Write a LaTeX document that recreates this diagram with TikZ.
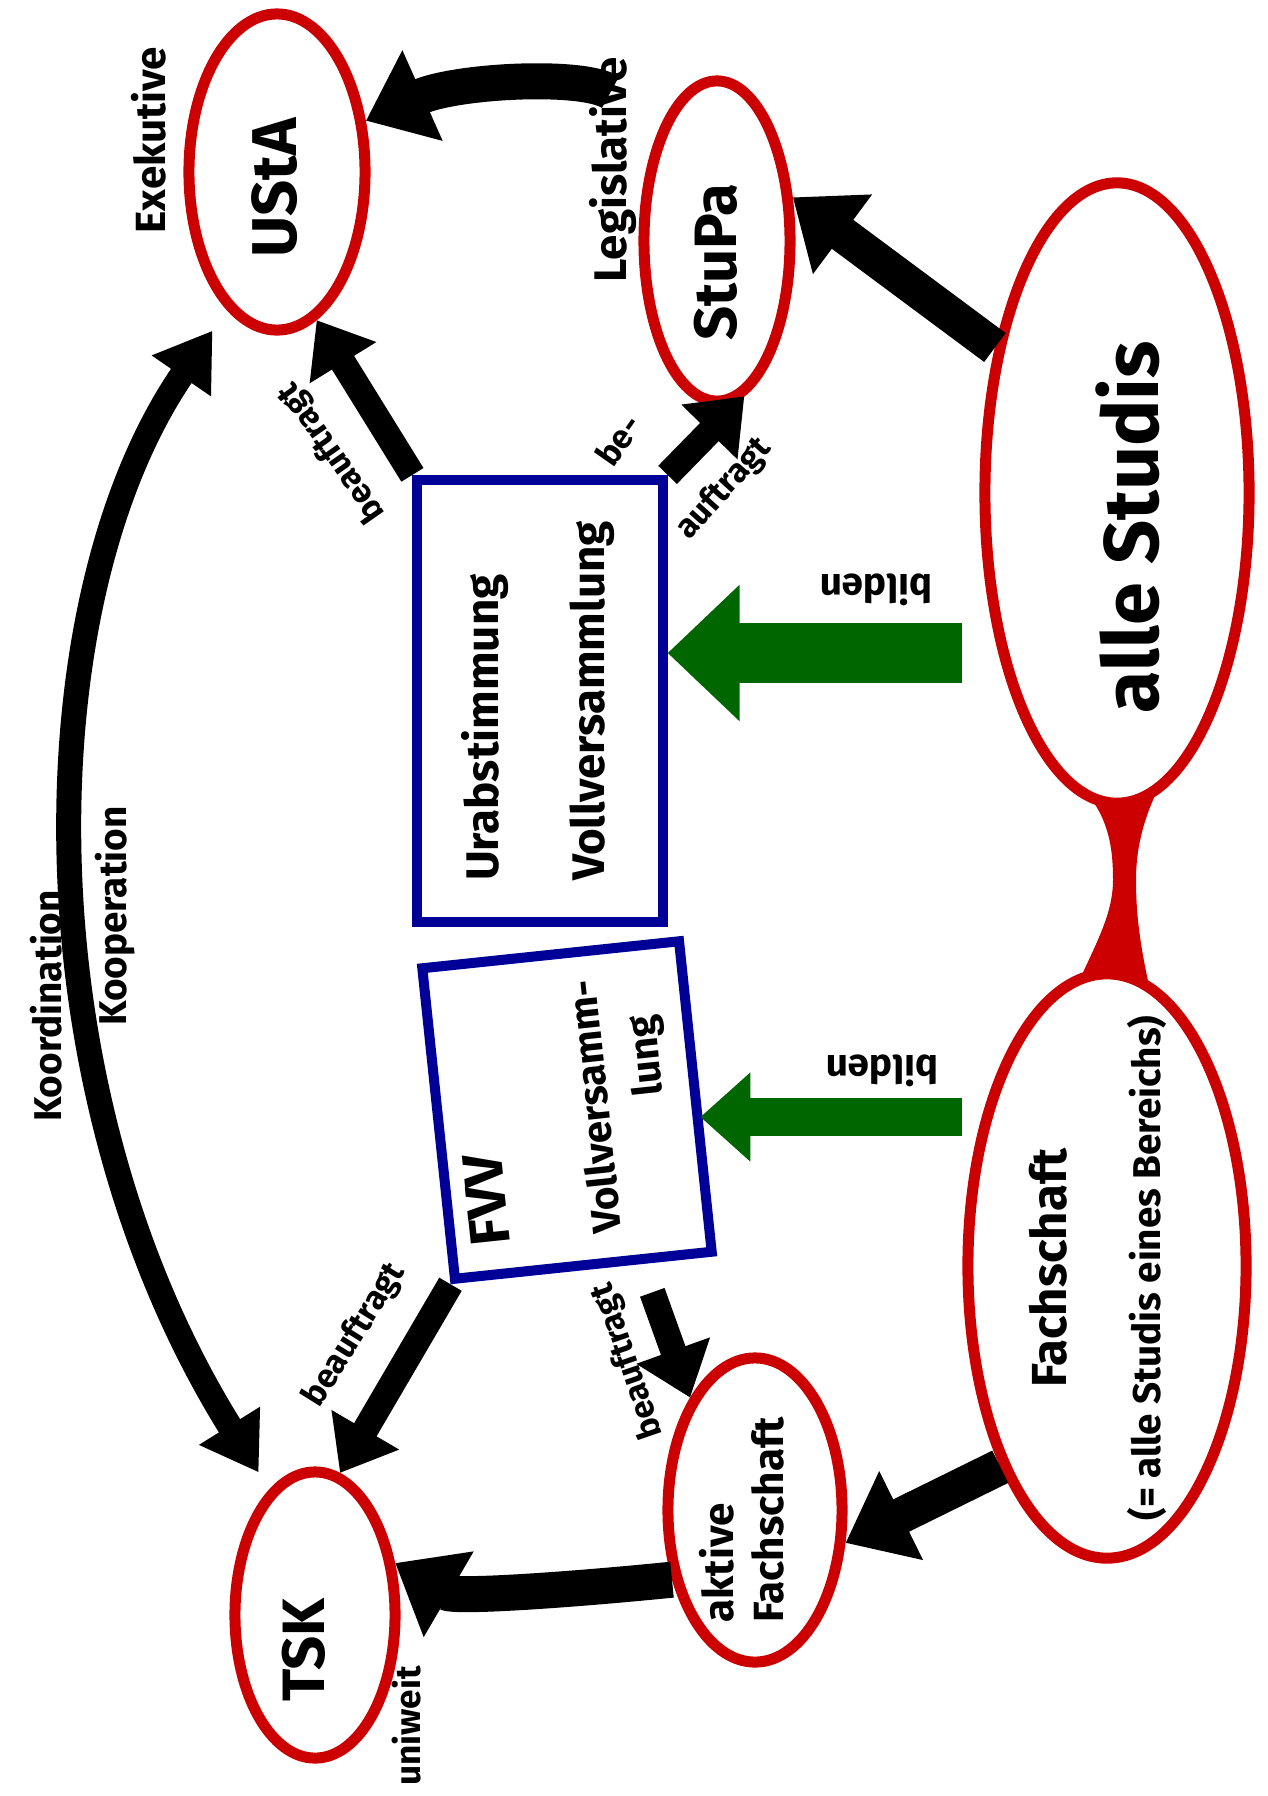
\documentclass[tikz,border=0pt]{standalone}
\usepackage{fontspec}
\setmainfont{Fira Sans}
\usepackage{tikz}
\usetikzlibrary{shapes.geometric,arrows.meta,calc}
\definecolor{rot}{HTML}{CC0000}
\definecolor{blau}{HTML}{000099}
\definecolor{gruen}{HTML}{006600}
\newcommand{\hand}[1]{\fontsize{#1}{#1}\selectfont\bfseries}

\begin{document}
\begin{tikzpicture}[x=0.01cm, y=-0.01cm,
    blase/.style={ellipse, draw=rot, line width=0.11cm, fill=white, inner sep=0pt},
    kasten/.style={rectangle, draw=blau, line width=0.1cm, fill=white, inner sep=0pt},
    pfeil/.style={line width=0.26cm, -{Triangle[length=0.5cm, width=0.75cm]}},
    dick/.style={line width=0.36cm, -{Triangle[length=0.62cm, width=0.95cm]}},
    bildbreit/.style={draw=gruen, line width=0.6cm, -{Triangle[length=0.72cm, width=1.32cm]}},
    bildschmal/.style={draw=gruen, line width=0.38cm, -{Triangle[length=0.5cm, width=0.86cm]}}]
  \useasboundingbox (0,0) rectangle (1268,1796);

  \fill[rot] (1080,785) .. controls (1108,815) and (1113,845) .. (1113,880)
             .. controls (1113,915) and (1095,945) .. (1075,990) -- (1150,990)
             .. controls (1140,945) and (1136,915) .. (1136,880)
             .. controls (1136,845) and (1145,815) .. (1160,785) -- cycle;

  \node[blase, minimum width=1.76cm, minimum height=3.16cm] (usta) at (277,172) {};
  \node[blase, minimum width=1.46cm, minimum height=3.2cm] (stupa) at (717,241) {};
  \node[blase, minimum width=2.64cm, minimum height=6.2cm] (alle) at (1117,493) {};
  \node[blase, minimum width=2.78cm, minimum height=5.84cm] (fach) at (1107,1266) {};
  \node[blase, minimum width=1.6cm, minimum height=2.86cm] (tsk) at (315,1615) {};
  \node[blase, minimum width=1.74cm, minimum height=3.04cm] (aktiv) at (755,1510) {};

  \node[rotate=90] (ustat) at (275,188) {\hand{18pt}UStA};
  \node[rotate=90] (stupat) at (716,262) {\hand{17pt}StuPa};
  \node[rotate=90] (allet) at (1128,527) {\hand{22pt}alle Studis};
  \node[rotate=90, align=center, font={\hand{11pt}}] (facht) at (1098,1268)
    {{\hand{14pt}Fachschaft}\\[0.55cm](= alle Studis eines Bereichs)};
  \node[rotate=90] (tskt) at (304,1650) {\hand{17pt}TSK};
  \node[rotate=90, align=left, font={\hand{12pt}}] (aktivt) at (742,1520) {aktive\\[0.08cm]Fachschaft};

  \node[kasten, minimum width=2.45cm, minimum height=4.42cm] (uv) at (540,701)
    {\rotatebox{90}{\hand{13pt}\begin{tabular}{@{}l@{}}Urabstimmung\\[0.57cm]Vollversammlung\end{tabular}}};
  \node[kasten, rotate=6, minimum width=2.58cm, minimum height=3.12cm] (fvv) at (567,1110)
    {\rotatebox{90}{\hand{11.5pt}\begin{tabular}{@{}l@{}}{\hand{16pt}FVV}\\[0.69cm]Vollversamm-\\[0.12cm]
      \hspace*{1.32cm}lung\end{tabular}}};

  \coordinate (g1) at (962,653);
  \coordinate (g2) at (962,1117);
  \draw[bildbreit] (g1) -- (g1 -| uv.east);
  \draw[bildschmal] (g2) -- (g2 -| fvv.east);

  \draw[dick, shorten <=0.6cm] (stupa.north west) .. controls +(-80,-50) and +(90,-40) .. (usta.30);
  \draw[dick] (alle.130) -- (stupa.30);
  \draw[pfeil] (uv.north west) -- (usta.-75);
  \draw[pfeil] (uv.north east) -- (stupa.-80);
  \draw[pfeil] (fvv.south west) -- (tsk.80);
  \draw[pfeil, shorten <=0.3cm] (fvv.-70) -- (aktiv.120);
  \draw[dick] (aktiv.220) .. controls +(-100,10) and +(60,35) .. (tsk.33);
  \draw[dick] (fach.242) -- (aktiv.-20);
  \draw[line width=0.25cm, {Triangle[length=0.55cm, width=0.68cm]}-{Triangle[length=0.55cm, width=0.68cm]},
        shorten <=0.25cm, shorten >=0.2cm]
    (usta.-110) .. controls +(-200,290) and +(-250,-400) .. (tsk.110);

  \node[rotate=90] (exek) at (149,140) {\hand{12pt}Exekutive};
  \node[rotate=90] (legi) at (613,170) {\hand{13pt}Legislative};
  \node[rotate=90] (koord) at (46,1006) {\hand{11pt}Koordination};
  \node[rotate=90] (koop) at (115,916) {\hand{11pt}Kooperation};
  \node[rotate=125] (bu1) at (332,452) {\hand{9.5pt}beauftragt};
  \node[rotate=55] (be) at (618,440) {\hand{9.5pt}be-};
  \node[rotate=48] (auf) at (724,489) {\hand{9.5pt}auftragt};
  \node[rotate=58] (bu2) at (355,1335) {\hand{9.5pt}beauftragt};
  \node[rotate=109] (bu3) at (628,1361) {\hand{9.5pt}beauftragt};
  \node[rotate=180] (bi1) at (876,590) {\hand{11pt}bilden};
  \node[rotate=180] (bi2) at (882,1071) {\hand{11pt}bilden};
  \node[rotate=90] (uni) at (407,1726) {\hand{10pt}uniweit};
\end{tikzpicture}
\end{document}
